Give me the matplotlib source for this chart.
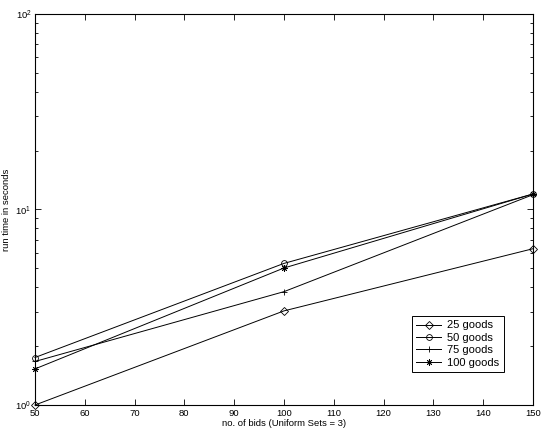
import matplotlib
matplotlib.use("Agg")
import matplotlib.pyplot as plt

plt.rcParams['font.family'] = ['Liberation Sans', 'DejaVu Sans']
plt.rcParams['font.size'] = 6.8
plt.rcParams['mathtext.fontset'] = 'custom'
plt.rcParams['mathtext.rm'] = 'Liberation Sans'

bids = [50, 100, 150]
goods_25 = [1.0, 3.03, 6.3]
goods_50 = [1.75, 5.3, 12.0]
goods_75 = [1.67, 3.8, 11.9]
goods_100 = [1.53, 5.02, 12.0]

# values, marker, marker size, label
series = [
    (goods_25, 'D', 3.6, '25 goods'),
    (goods_50, 'o', 4.2, '50 goods'),
    (goods_75, '+', 5.0, '75 goods'),
    (goods_100, (8, 2, 0), 4.6, '100 goods'),
]


def main():
    fig = plt.figure(figsize=(5.46, 4.36), dpi=100)
    ax = fig.add_axes([0.064, 0.071, 0.912, 0.897])

    for values, marker, size, label in series:
        ax.plot(bids, values, color='black', linewidth=0.7, marker=marker,
                markersize=size, markerfacecolor='none', markeredgewidth=0.6,
                label=label, clip_on=False)

    ax.set_yscale('log')
    ax.set_xlim(50, 150)
    ax.set_ylim(1, 100)
    ax.set_xticks(range(50, 151, 10))
    ax.tick_params(which='both', direction='in', top=True, right=True,
                   width=0.6)
    ax.tick_params(which='major', length=4, pad=2.5)
    ax.tick_params(which='minor', length=2)
    for spine in ax.spines.values():
        spine.set_linewidth(0.8)
    ax.set_xlabel('no. of bids (Uniform Sets = 3)', labelpad=1)
    ax.set_ylabel('run time in seconds', labelpad=3)

    leg = ax.legend(loc='lower right', bbox_to_anchor=(0.942, 0.084),
                    borderaxespad=0, fancybox=False, edgecolor='black',
                    framealpha=1, handlelength=2.2, borderpad=0.4,
                    labelspacing=0.22, handletextpad=0.6, fontsize=8)
    leg.get_frame().set_linewidth(0.7)

    plt.savefig('out.png', dpi=100)
    plt.close(fig)


if __name__ == '__main__':
    main()
